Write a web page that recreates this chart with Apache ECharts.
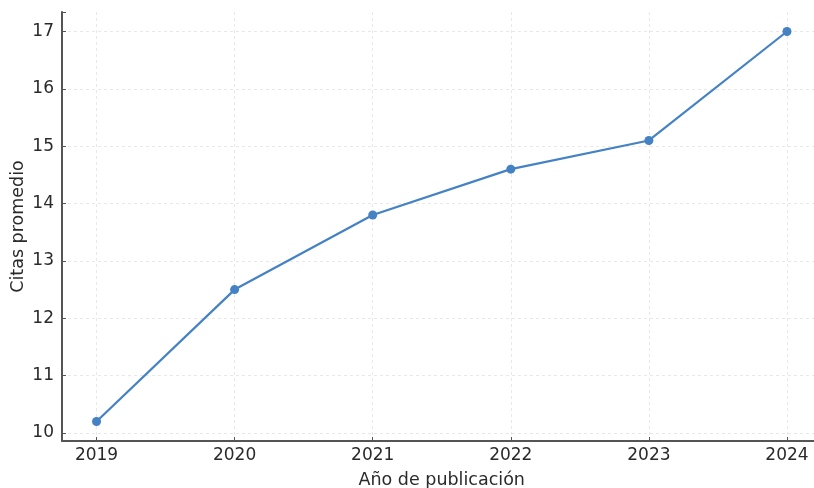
<!DOCTYPE html>
<html>
<head>
<meta charset="utf-8">
<script src="https://cdn.jsdelivr.net/npm/echarts@6/dist/echarts.min.js"></script>
<style>html,body{margin:0;padding:0;background:#fff}#c{width:814px;height:488px}</style>
</head>
<body>
<div id="c"></div>
<script>
const years = [2019, 2020, 2021, 2022, 2023, 2024];
const citas = [10.2, 12.5, 13.8, 14.6, 15.1, 17.0];
const xName = 'Año de publicación';
const yName = 'Citas promedio';

const chart = echarts.init(document.getElementById('c'), null, {renderer: 'canvas'});
const font = 'DejaVu Sans';
const isWhole = v => Math.abs(v - Math.round(v)) < 1e-6;
chart.setOption({
  animation: false,
  backgroundColor: '#fff',
  grid: {left: 62, top: 12, width: 759.5, height: 429, containLabel: false, outerBoundsMode: 'none'},
  xAxis: {
    type: 'value', min: 2018.75, max: 2024.25, splitNumber: 5,
    name: xName, nameLocation: 'middle', nameGap: 30,
    nameTextStyle: {fontFamily: font, fontSize: 17.5, color: '#2a2a2a'},
    axisLine: {lineStyle: {color: '#555', width: 2}},
    axisTick: {show: true, inside: true, length: 4, lineStyle: {color: '#555'}},
    axisLabel: {fontFamily: font, fontSize: 17, color: '#2a2a2a', margin: 6,
      formatter: v => isWhole(v) ? String(Math.round(v)) : ''},
    splitLine: {show: true, showMinLine: false, showMaxLine: false, lineStyle: {color: '#e8e8e8', type: [3, 3], width: 1}}
  },
  yAxis: {
    type: 'value', min: 9.86, max: 17.34, splitNumber: 7,
    name: yName, nameLocation: 'middle', nameGap: 35, nameMoveOverlap: false,
    nameTextStyle: {fontFamily: font, fontSize: 17.5, color: '#2a2a2a'},
    axisLine: {show: true, lineStyle: {color: '#555', width: 2}},
    axisTick: {show: true, inside: true, length: 4, lineStyle: {color: '#555'}},
    axisLabel: {fontFamily: font, fontSize: 17, color: '#2a2a2a', margin: 8,
      formatter: v => isWhole(v) ? String(Math.round(v)) : ''},
    splitLine: {show: true, showMinLine: false, showMaxLine: false, lineStyle: {color: '#e8e8e8', type: [3, 3], width: 1}}
  },
  series: [{
    type: 'line',
    data: years.map((y, i) => [y, citas[i]]),
    symbol: 'circle', symbolSize: 9,
    lineStyle: {color: '#4482c3', width: 2.2},
    itemStyle: {color: '#4482c3'}
  }]
});
</script>
</body>
</html>
